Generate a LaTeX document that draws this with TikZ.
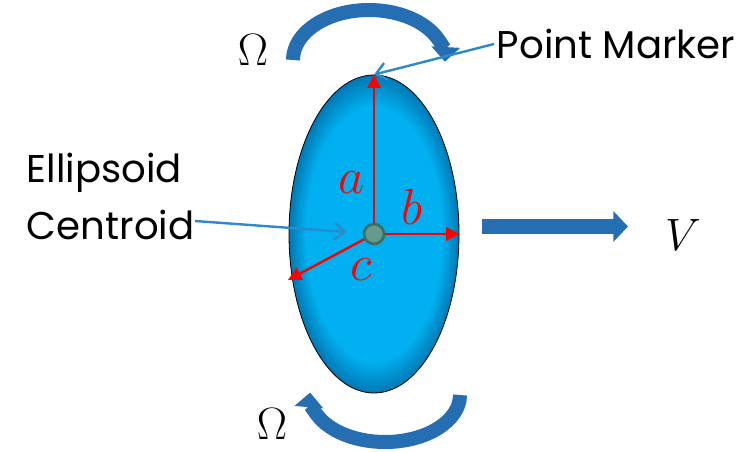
\RequirePackage{fix-cm}
\documentclass[tikz,border=0pt]{standalone}
\usepackage{amsmath}
\usepackage{fontspec}
\setmainfont{Poppins}
\usetikzlibrary{arrows.meta,shapes.geometric}
\definecolor{ellcyan}{RGB}{0,176,240}
\definecolor{ellrim}{RGB}{0,120,180}
\definecolor{ellspin}{RGB}{38,110,178}
\definecolor{ellline}{RGB}{46,136,204}
\definecolor{ellred}{RGB}{255,0,0}
\definecolor{ellcentfill}{RGB}{100,155,140}
\definecolor{ellcentdraw}{RGB}{62,108,98}
\pgfdeclareradialshading{ellbodyshade}{\pgfpoint{0bp}{0bp}}{%
  color(0bp)=(ellcyan); color(20bp)=(ellcyan); color(25bp)=(ellrim); color(50bp)=(ellrim)}
\tikzset{
  ellbody/.style={ellipse,draw=black,semithick,shading=ellbodyshade,
                  minimum width=127.5pt,minimum height=238.5pt,inner sep=0pt},
  ellcent/.style={circle,draw=ellcentdraw,fill=ellcentfill,line width=2pt,
                  minimum size=15pt,inner sep=0pt},
  ellaxis/.style={-{Triangle[length=10pt,width=10pt]},line width=1.8pt,ellred},
  ellaxlabel/.style={ellred,inner sep=0pt,font=\fontsize{38}{40}\selectfont},
  ellspinarrow/.style={-{Triangle[length=11pt,width=21pt]},line width=10.5pt,ellspin},
  ellpush/.style={-{Triangle[length=11pt,width=22.5pt]},line width=11.25pt,ellspin},
  ellpoint/.style={-{Straight Barb[length=8pt,width=13pt]},line width=1.8pt,ellline},
  ellmath/.style={inner sep=0pt,font=\fontsize{34}{36}\selectfont},
  elltext/.style={inner sep=2pt,font=\fontsize{29}{43}\selectfont}
}
\begin{document}
\begin{tikzpicture}[x=0.75pt,y=0.75pt]
  \useasboundingbox (0,0) rectangle (749,451);

  \node[ellbody] (body) at (374,217) {};
  \node[ellcent] (cen) at (body.center) {};

  % principal axes
  \coordinate (ctip) at (288,171);
  \draw[ellaxis] (cen) -- (body.north);
  \draw[ellaxis] (cen) -- (body.east);
  \draw[ellaxis] (cen) -- (ctip);
  \node[ellaxlabel] (alab) at (352,268) {$a$};
  \node[ellaxlabel] (blab) at (412,244) {$b$};
  \node[ellaxlabel] (clab) at (361,181) {$c$};

  % rotation
  \draw[ellspinarrow] (293,391) arc[start angle=180,end angle=-2,x radius=76,y radius=50];
  \draw[ellspinarrow] (460,56) arc[start angle=0,end angle=-183,x radius=75,y radius=47];
  \node[ellmath] (omtop) at (253,401) {$\Omega$};
  \node[ellmath] (ombot) at (272,27) {$\Omega$};

  % translation
  \coordinate (vstart) at (482,224.5);
  \coordinate (vend) at (628,224.5);
  \draw[ellpush] (vstart) -- (vend);
  \node[ellmath] (vlab) at (683,216) {$V$};

  % labels
  \node[elltext,anchor=west] (pmlbl) at (494,407) {Point Marker};
  \draw[ellpoint] (pmlbl.west) -- (body.north);
  \node[elltext,anchor=north west,align=left] (centlbl) at (24,301) {Ellipsoid\\Centroid};
  \coordinate (cstart) at (195,230);
  \draw[ellpoint,shorten >=12pt] (cstart) -- (cen);
\end{tikzpicture}
\end{document}
